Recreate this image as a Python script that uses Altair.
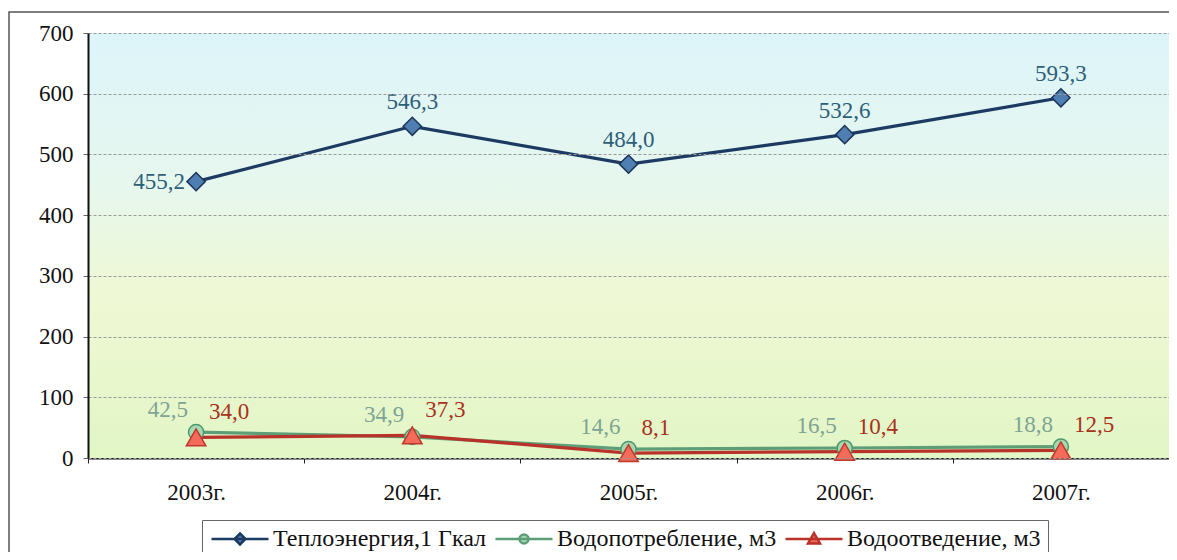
import altair as alt
import pandas as pd

years = ["2003г.", "2004г.", "2005г.", "2006г.", "2007г."]
series_names = ["Теплоэнергия,1 Гкал", "Водопотребление, м3", "Водоотведение, м3"]
heat = [455.2, 546.3, 484.0, 532.6, 593.3]
water_use = [42.5, 34.9, 14.6, 16.5, 18.8]
water_out = [34.0, 37.3, 8.1, 10.4, 12.5]
y_ticks = [0, 100, 200, 300, 400, 500, 600, 700]

line_colors = ["#1d3a63", "#5d9e78", "#b8322a"]
marker_fill = ["#4f7eb3", "#a8d8b0", "#f26b5b"]
marker_stroke = ["#1c3558", "#4d9a6e", "#c0392b"]
marker_shape = ["diamond", "circle", "triangle-up"]
marker_size = [330, 230, 380]
label_colors = ["#2e5f78", "#7ea494", "#a8321e"]

rows = []
for name, vals in zip(series_names, [heat, water_use, water_out]):
    for yr, v in zip(years, vals):
        rows.append({"year": yr, "series": name, "value": v,
                     "label": f"{v:.1f}".replace(".", ",")})
df = pd.DataFrame(rows)

FONT = "Liberation Serif, Times New Roman, serif"
W, H = 1081, 425

x_enc = alt.X("year:N", sort=years,
              scale=alt.Scale(type="band", paddingInner=0, paddingOuter=0),
              axis=alt.Axis(title=None, tickBand="extent", labelAngle=0,
                            labelFont=FONT, labelFontSize=23, labelColor="#111",
                            labelPadding=18, tickSize=5, tickColor="#222",
                            domainColor="#111", domainWidth=2, grid=False))
y_enc = alt.Y("value:Q", scale=alt.Scale(domain=[0, 700], nice=False),
              axis=alt.Axis(title=None, values=y_ticks, grid=True,
                            gridDash=[3, 2], gridColor="#9a9a9a", gridWidth=1,
                            domainColor="#111", domainWidth=2, tickColor="#666",
                            tickSize=5, labelFont=FONT, labelFontSize=23,
                            labelColor="#111", labelPadding=10, zindex=1))

one = alt.Data(values=[{}])

bg = alt.Chart(one).mark_rect(
    color=alt.Gradient(
        gradient="linear", x1=0, x2=0, y1=0, y2=1,
        stops=[alt.GradientStop(color="#ddf4fa", offset=0),
               alt.GradientStop(color="#e6f7ee", offset=0.35),
               alt.GradientStop(color="#eff8d4", offset=0.62),
               alt.GradientStop(color="#e2f6c6", offset=1)])
).encode(x=alt.value(0), x2=alt.value(W), y=alt.value(0), y2=alt.value(H))

frame = alt.Chart(one).mark_rect(fillOpacity=0, stroke="#555", strokeWidth=1.5).encode(
    x=alt.value(-79), x2=alt.value(W + 20), y=alt.value(-21), y2=alt.value(H + 120))

# legend symbol paths (unit = 10 px with symbolSize 400)
paths = [
    "M-2.85,0H2.85M0,-0.55L0.55,0L0,0.55L-0.55,0Z",
    "M-2.85,0H2.85M0.45,0A0.45,0.45 0 1 1 -0.45,0A0.45,0.45 0 1 1 0.45,0Z",
    "M-2.85,0H2.85M0,-0.6L0.6,0.45L-0.6,0.45Z",
]

def pick(vals):
    return (f"datum.value === '{series_names[0]}' ? '{vals[0]}' : "
            f"datum.value === '{series_names[1]}' ? '{vals[1]}' : '{vals[2]}'")

legend = alt.Legend(
    orient="none", legendX=114, legendY=487, direction="horizontal", title=None,
    symbolSize=400, symbolStrokeWidth=2.5, labelFont=FONT, labelFontSize=24,
    labelColor="#111", labelLimit=400, strokeColor="#666", padding=7,
    columnPadding=3, symbolOffset=19, labelOffset=21,
    symbolType={"expr": pick(paths)},
    symbolFillColor={"expr": pick(marker_fill)},
)

lines = alt.Chart(df).mark_line(strokeWidth=3.2).encode(
    x=x_enc, y=y_enc,
    color=alt.Color("series:N", sort=series_names,
                    scale=alt.Scale(domain=series_names, range=line_colors),
                    legend=legend))

def points(i):
    return alt.Chart(df).transform_filter(
        alt.datum.series == series_names[i]
    ).mark_point(filled=True, strokeWidth=1.5, opacity=1, shape=marker_shape[i],
                 fill=marker_fill[i], stroke=marker_stroke[i], size=marker_size[i]
    ).encode(x=x_enc, y=y_enc)

def labels(series_idx, **kw):
    return alt.Chart(df).transform_filter(
        alt.datum.series == series_names[series_idx]
    ).mark_text(font=FONT, fontSize=23, color=label_colors[series_idx],
                baseline="middle", **kw).encode(x=x_enc, y=y_enc, text="label:N")

heat_first = labels(0, align="right", dx=-11, dy=0).transform_filter(alt.datum.year == years[0])
heat_rest = labels(0, align="center", dy=-24).transform_filter(alt.datum.year != years[0])
use_lbl = labels(1, align="right", dx=-8, dy=-22)
out_lbl = labels(2, align="left", dx=13, dy=-25)

chart = alt.layer(bg, frame, lines, points(0), points(1), points(2),
                  heat_first, heat_rest, use_lbl, out_lbl).properties(
    width=W, height=H,
    autosize=alt.AutoSizeParams(type="none"),
    padding={"left": 80, "top": 25, "right": 0, "bottom": 94},
).configure_view(stroke="#444", strokeWidth=1.5).configure(background="white")

chart.save("out.html", embed_options={"renderer": "svg", "actions": False})
